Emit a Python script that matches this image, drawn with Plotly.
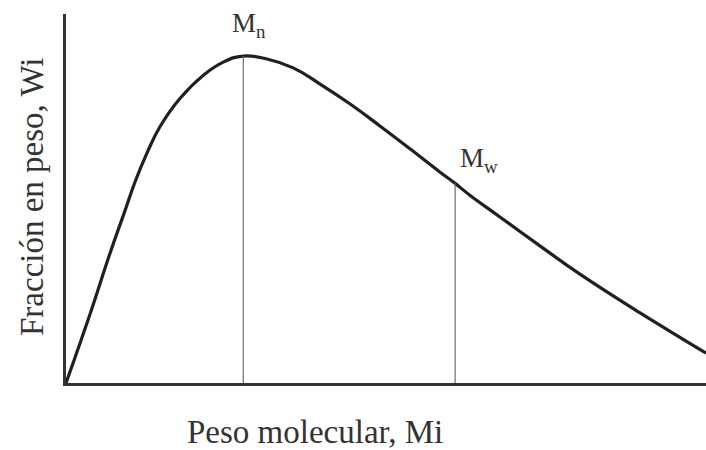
import plotly.graph_objects as go

# Weight-fraction distribution curve (molecular weight vs. weight fraction)
mol_weight = [0.0, 0.36, 0.70, 0.91, 1.09, 1.27, 1.47, 1.78, 2.14, 2.45,
              2.77, 3.14, 3.55, 3.97, 4.44, 4.91, 5.38, 5.84, 6.08, 6.31,
              6.78, 7.41, 8.03, 8.97, 10.0]
weight_frac = [0.0, 1.79, 3.58, 4.61, 5.50, 6.25, 6.95, 7.71, 8.33, 8.69,
               8.86, 8.78, 8.54, 8.10, 7.56, 6.96, 6.34, 5.72, 5.41, 5.09,
               4.50, 3.71, 2.95, 1.90, 0.81]

# Average molecular weights marked on the curve
mn_x, mn_y = 2.77, 8.86
mw_x, mw_y = 6.08, 5.41

x_title = "Peso molecular, Mi"
y_title = "Fracción en peso, Wi"

SERIF = "'Liberation Serif', 'DejaVu Serif', serif"
TEXT = "#333333"

fig = go.Figure()

fig.add_trace(go.Scatter(
    x=mol_weight, y=weight_frac, mode="lines",
    line=dict(color="#231f20", width=3.2, shape="spline", smoothing=1.3),
    hoverinfo="skip", showlegend=False,
))

for vx, vy in [(mn_x, mn_y), (mw_x, mw_y)]:
    fig.add_trace(go.Scatter(
        x=[vx, vx], y=[0, vy], mode="lines",
        line=dict(color="#6a6a6a", width=1.2),
        hoverinfo="skip", showlegend=False,
    ))

fig.add_annotation(x=mn_x, y=mn_y, xref="x", yref="y", text="M<sub>n</sub>",
                   showarrow=False, xanchor="center", yanchor="bottom",
                   xshift=6, yshift=12,
                   font=dict(family=SERIF, size=27, color=TEXT))
fig.add_annotation(x=mw_x, y=mw_y, xref="x", yref="y", text="M<sub>w</sub>",
                   showarrow=False, xanchor="left", yanchor="bottom",
                   xshift=3, yshift=4,
                   font=dict(family=SERIF, size=27, color=TEXT))

fig.add_annotation(x=(315 - 66) / 640, y=-(432 - 383) / 369, xref="paper", yref="paper",
                   text=x_title, showarrow=False, xanchor="center", yanchor="middle",
                   font=dict(family=SERIF, size=33, color=TEXT))
fig.add_annotation(x=-(66 - 32) / 640, y=(383 - 197) / 369, xref="paper", yref="paper",
                   text=y_title, textangle=-90, showarrow=False,
                   xanchor="center", yanchor="middle",
                   font=dict(family=SERIF, size=33, color=TEXT))

axis_style = dict(showline=True, linecolor="#333333", linewidth=3, showgrid=False,
                  zeroline=False, showticklabels=False, ticks="", fixedrange=True)

fig.update_layout(
    width=706, height=450,
    margin=dict(l=66, r=0, t=14, b=67),
    paper_bgcolor="white", plot_bgcolor="white",
    xaxis=dict(range=[0, 10], **axis_style),
    yaxis=dict(range=[0, 10], **axis_style),
)

fig.write_html("out.html")
